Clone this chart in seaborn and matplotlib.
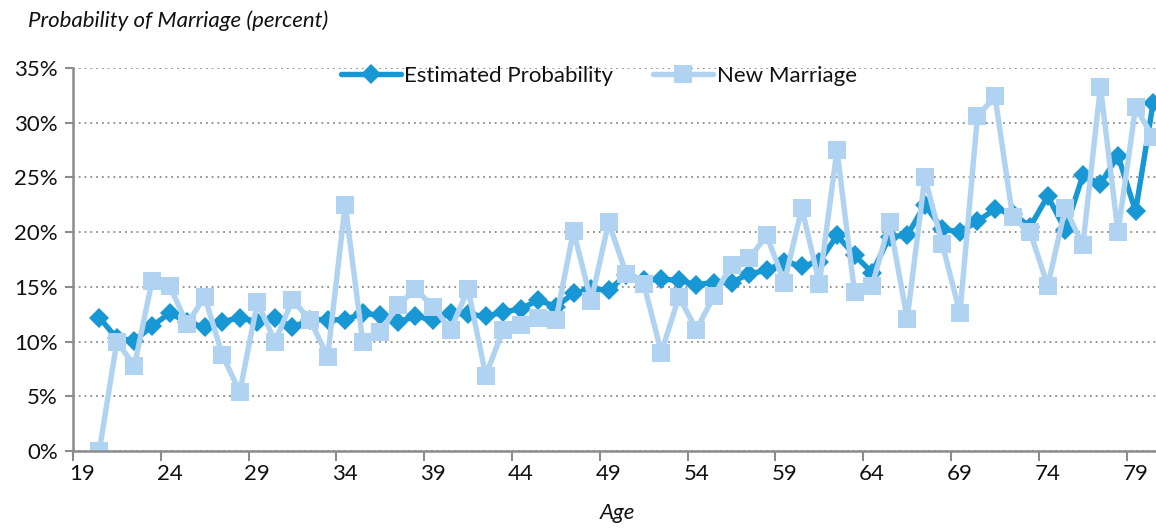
import numpy as np
import pandas as pd
import matplotlib
matplotlib.use("Agg")
import matplotlib.pyplot as plt
from matplotlib.ticker import FixedLocator, PercentFormatter
import seaborn as sns

# data (percent)
ages = list(range(20, 81))
estimated = [12.2, 10.3, 10.1, 11.4, 12.6, 11.8, 11.3, 11.8, 12.2, 11.8,
             12.2, 11.3, 12.0, 12.0, 12.0, 12.6, 12.4, 11.8, 12.3, 12.0,
             12.6, 12.5, 12.3, 12.7, 13.0, 13.8, 13.2, 14.4, 14.8, 14.7,
             16.1, 15.6, 15.7, 15.6, 15.2, 15.4, 15.4, 16.2, 16.5, 17.3,
             16.9, 17.3, 19.7, 17.9, 16.3, 19.6, 19.7, 22.5, 20.3, 20.0,
             21.0, 22.1, 21.7, 20.5, 23.3, 20.2, 25.2, 24.4, 27.0, 21.9,
             31.8]
new_marriage = [0.0, 10.0, 7.8, 15.5, 15.1, 11.6, 14.1, 8.8, 5.4, 13.6,
                10.0, 13.8, 12.0, 8.6, 22.5, 10.0, 10.9, 13.3, 14.8, 13.2,
                11.1, 14.8, 6.9, 11.1, 11.5, 12.2, 12.0, 20.1, 13.7, 20.9,
                16.2, 15.3, 9.0, 14.1, 11.1, 14.2, 17.0, 17.6, 19.7, 15.4,
                22.2, 15.3, 27.5, 14.5, 15.1, 20.9, 12.1, 25.0, 18.9, 12.6,
                30.6, 32.4, 21.4, 20.0, 15.1, 22.2, 18.8, 33.3, 20.0, 31.4,
                28.7]
x_labels = list(range(19, 80, 5))
y_ticks = [0, 5, 10, 15, 20, 25, 30, 35]

df = pd.DataFrame({"Age": ages, "Estimated": estimated, "New": new_marriage})

DARK = "#1797d3"
LIGHT = "#afd3f0"
GRID = "#8c8c8c"
FS = 16

sns.set_style("white")
plt.rcParams["font.family"] = ["Lato", "DejaVu Sans"]

fig = plt.figure(figsize=(11.56, 5.29), dpi=100)
ax = fig.add_axes([0.0631, 0.1474, 0.942, 0.724])

sns.lineplot(data=df, x="Age", y="Estimated", ax=ax, color=DARK, linewidth=3.9,
             marker="D", markersize=10, markeredgewidth=0,
             label="Estimated Probability", zorder=3)
sns.lineplot(data=df, x="Age", y="New", ax=ax, color=LIGHT, linewidth=3.9,
             marker="s", markersize=13.5, markeredgewidth=0,
             label="New Marriage", zorder=4)

ax.set_xlim(18.5, 80.5)
ax.set_ylim(0, 35)

# x: labels at category centres, tick marks on category boundaries
ax.xaxis.set_major_locator(FixedLocator(x_labels))
ax.xaxis.set_minor_locator(FixedLocator([v - 0.5 for v in x_labels]))
ax.tick_params(axis="x", which="major", length=0, pad=9, labelsize=FS,
               labelcolor="#111111")
ax.tick_params(axis="x", which="minor", length=7, width=1.5, color=GRID,
               direction="out", bottom=True)

ax.set_yticks(y_ticks)
ax.yaxis.set_major_formatter(PercentFormatter(decimals=0))
ax.tick_params(axis="y", length=6, width=1.5, color=GRID, direction="out",
               left=True, pad=5, labelsize=FS, labelcolor="#111111")

ax.grid(axis="y", linestyle=(0, (1, 2.2)), linewidth=1.3, color=GRID)
ax.grid(axis="x", visible=False)
ax.set_axisbelow(True)

sns.despine(ax=ax, top=True, right=True)
for side in ("left", "bottom"):
    ax.spines[side].set_color(GRID)
    ax.spines[side].set_linewidth(1.8)
    ax.spines[side].set_zorder(5)

ax.set_xlabel("Age", fontsize=FS, style="italic", labelpad=14, color="#111111")
ax.set_ylabel("")

leg = ax.legend(loc="center", bbox_to_anchor=(0.483, 0.979), ncol=2,
                frameon=False, fontsize=FS, handlelength=2.7,
                handletextpad=0.15, columnspacing=1.8, borderaxespad=0)
for t in leg.get_texts():
    t.set_color("#111111")

fig.text(0.024, 1 - 21 / 529, "Probability of Marriage (percent)",
         fontsize=FS, style="italic", va="center", ha="left", color="#111111")

fig.savefig("out.png", dpi=100)
